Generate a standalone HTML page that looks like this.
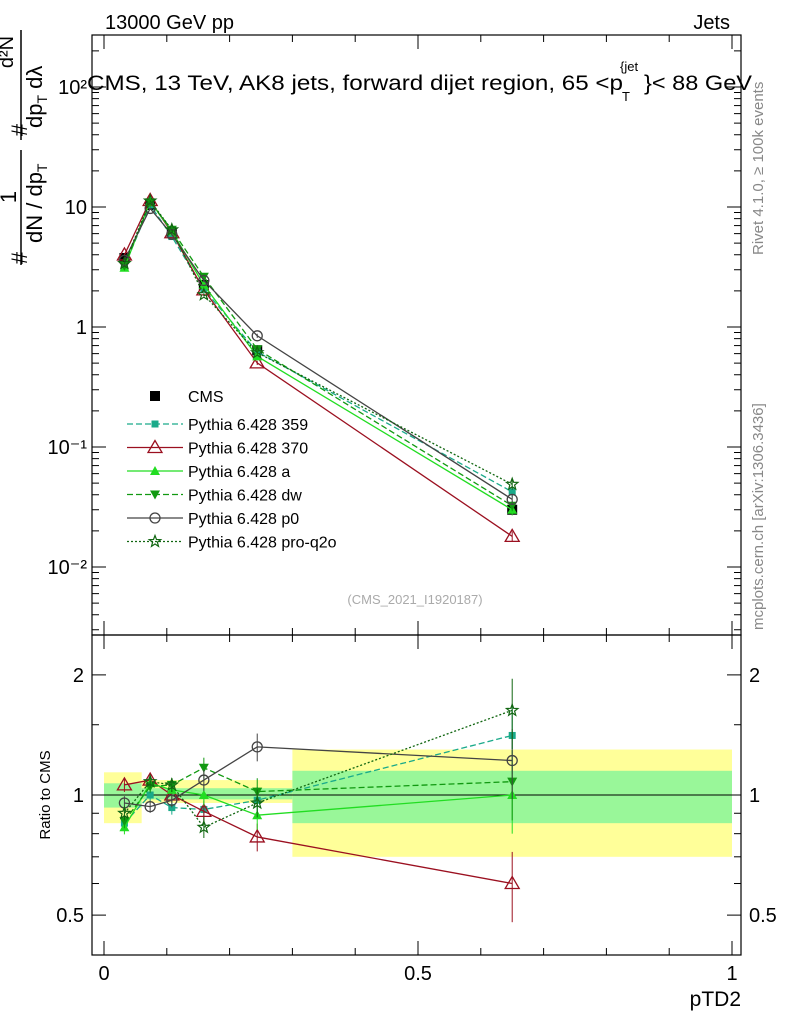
<!DOCTYPE html>
<html><head><meta charset="utf-8"><style>
body{margin:0;background:#fff;font-family:"Liberation Sans",sans-serif}
svg text{font-family:"Liberation Sans",sans-serif}
</style></head><body>
<svg id="c" width="786" height="1024" xmlns="http://www.w3.org/2000/svg">
<text x="105" y="29" font-size="20">13000 GeV pp</text>
<text x="730" y="29" font-size="20" text-anchor="end">Jets</text>
<g>
<text x="87" y="90" font-size="21" textLength="536" lengthAdjust="spacingAndGlyphs">CMS, 13 TeV, AK8 jets, forward dijet region, 65 &lt;p</text>
<text x="620" y="71" font-size="13">{jet</text>
<text x="622" y="101" font-size="13">T</text>
<text x="644" y="90" font-size="21" textLength="108" lengthAdjust="spacingAndGlyphs">}&lt; 88 GeV</text>
</g>
<text transform="translate(763,255) rotate(-90)" font-size="15" fill="#888">Rivet 4.1.0, ≥ 100k events</text>
<text transform="translate(763,630) rotate(-90)" font-size="15" fill="#888">mcplots.cern.ch [arXiv:1306.3436]</text>
<g>
<text transform="translate(27,258) rotate(-90)" font-size="22" text-anchor="middle">#</text>
<text transform="translate(16,197) rotate(-90)" font-size="22" text-anchor="middle">1</text>
<line x1="21" x2="21" y1="150" y2="265" stroke="#000" stroke-width="1.5"/>
<text transform="translate(42,243) rotate(-90)" font-size="22">dN / dp<tspan font-size="14" dy="5">T</tspan></text>
<text transform="translate(27,130) rotate(-90)" font-size="22" text-anchor="middle">#</text>
<text transform="translate(13,52) rotate(-90)" font-size="20" text-anchor="middle">d²N</text>
<line x1="21" x2="21" y1="30" y2="140" stroke="#000" stroke-width="1.5"/>
<text transform="translate(42,128) rotate(-90)" font-size="22">dp<tspan font-size="14" dy="5">T</tspan><tspan dy="-5"> dλ</tspan></text>
</g>
<text x="415" y="604" font-size="13" fill="#aaa" text-anchor="middle">(CMS_2021_I1920187)</text>
<text transform="translate(50,795) rotate(-90)" font-size="15" text-anchor="middle">Ratio to CMS</text>
<text x="741" y="1006" font-size="21" text-anchor="end">pTD2</text>
<g id="g"></g>
</svg>
<script>
const xVals=[0.0325,0.0735,0.108,0.159,0.244,0.65];
const binEdges=[0,0.06,0.3,1.0];
const bandYLo=[0.85,0.955,0.70];
const bandYHi=[1.14,1.09,1.30];
const bandGLo=[0.93,0.975,0.85];
const bandGHi=[1.07,1.04,1.15];
const cmsVals=[3.76,10.4,6.1,2.24,0.64,0.030];
const r359=[0.85,1.0,0.93,0.92,0.97,1.41];
const r370=[1.06,1.09,1.0,0.91,0.785,0.6];
const rA=[0.83,1.07,1.03,1.0,0.89,1.0];
const rDw=[0.86,1.05,1.06,1.17,1.02,1.08];
const rP0=[0.955,0.935,0.97,1.09,1.32,1.22];
const rQ2o=[0.9,1.08,1.06,0.83,0.955,1.63];
const relErr=[0.04,0.035,0.04,0.06,0.08,0.2];
const series=[
 {n:"Pythia 6.428 359",r:r359,c:"#1aaa8a",d:"6,3",m:"sq"},
 {n:"Pythia 6.428 370",r:r370,c:"#9b1020",d:"",m:"tri"},
 {n:"Pythia 6.428 a",r:rA,c:"#22dd22",d:"",m:"ftri"},
 {n:"Pythia 6.428 dw",r:rDw,c:"#119911",d:"6,3",m:"dtri"},
 {n:"Pythia 6.428 p0",r:rP0,c:"#444",d:"",m:"circ"},
 {n:"Pythia 6.428 pro-q2o",r:rQ2o,c:"#116611",d:"2,2",m:"star"}];
const L=92,R=741,T=35,M=635,B=955;
const X=v=>104+628*v;
const Y=v=>327-120*Math.log10(v);
const YR=v=>795-399*Math.log10(v);
const g=document.getElementById('g');
function el(t,a,p){const e=document.createElementNS('http://www.w3.org/2000/svg',t);for(const k in a)e.setAttribute(k,a[k]);(p||g).appendChild(e);return e;}
for(let i=0;i<binEdges.length-1;i++){
 const a=el('rect',{x:X(binEdges[i]),y:YR(bandYHi[i]),width:X(binEdges[i+1])-X(binEdges[i]),height:YR(bandYLo[i])-YR(bandYHi[i]),fill:'#ffff99'});
 
 
 const b=el('rect',{x:X(binEdges[i]),y:YR(bandGHi[i]),width:X(binEdges[i+1])-X(binEdges[i]),height:YR(bandGLo[i])-YR(bandGHi[i]),fill:'#99f799'});
 
 
}
el('line',{x1:L,x2:R,y1:YR(1),y2:YR(1),stroke:'#000'});
for(const [y1,y2] of [[T,M],[M,B]]){const f=el('rect',{x:L,y:y1,width:R-L,height:y2-y1,fill:'none',stroke:'#000','stroke-width':1.2});
 }
for(const v of [0,0.5,1]){for(const [y,s] of [[M,-1],[B,-1],[T,1],[M,1]]){el('line',{x1:X(v),x2:X(v),y1:y,y2:y+s*14,stroke:'#000'});}
 const t=el('text',{x:X(v),y:980,'font-size':20,'text-anchor':'middle'});t.textContent=v;
 }
for(let k=1;k<10;k++){const v=k/10;if(k==5)continue;for(const [y,s] of [[M,-1],[B,-1],[T,1],[M,1]])el('line',{x1:X(v),x2:X(v),y1:y,y2:y+s*7,stroke:'#000'});}
const mainTicks=[[100,"10²"],[10,"10"],[1,"1"],[0.1,"10⁻¹"],[0.01,"10⁻²"]];
for(let e=-3;e<3;e++)for(let k=1;k<10;k++){const v=k*Math.pow(10,e);const y=Y(v);if(y<T||y>M)continue;const len=k==1?14:7;
 el('line',{x1:L,x2:L+len,y1:y,y2:y,stroke:'#000'});el('line',{x1:R,x2:R-len,y1:y,y2:y,stroke:'#000'});}
for(const [v,s] of mainTicks){const t=el('text',{x:L-5,y:Y(v)+7,'font-size':20,'text-anchor':'end'});t.textContent=s;
 }
for(const v of [0.5,0.6,0.7,0.8,0.9,1,1.5,2]){const len=(v==0.5||v==1||v==2)?14:7;const y=YR(v);
 el('line',{x1:L,x2:L+len,y1:y,y2:y,stroke:'#000'});el('line',{x1:R,x2:R-len,y1:y,y2:y,stroke:'#000'});
 if(len==14){for(const [x,a] of [[L-8,'end'],[R+8,'start']]){const t=el('text',{x:x,y:y+7,'font-size':20,'text-anchor':a});t.textContent=v;
 }}}
function marker(m,x,y,c,p){
 if(m=="sq")el('rect',{x:x-3.5,y:y-3.5,width:7,height:7,fill:c},p);
 else if(m=="bsq")el('rect',{x:x-5,y:y-5,width:10,height:10,fill:'#000'},p);
 else if(m=="tri")el('polygon',{points:`${x},${y-7} ${x-7},${y+5} ${x+7},${y+5}`,fill:'none',stroke:c,'stroke-width':1.3},p);
 else if(m=="ftri")el('polygon',{points:`${x},${y-5} ${x-5},${y+4} ${x+5},${y+4}`,fill:c},p);
 else if(m=="dtri")el('polygon',{points:`${x},${y+5} ${x-5},${y-4} ${x+5},${y-4}`,fill:c},p);
 else if(m=="circ")el('circle',{cx:x,cy:y,r:5,fill:'none',stroke:c,'stroke-width':1.3},p);
 else {let pts=[];for(let i=0;i<10;i++){const rr=i%2?2.5:6;const a=-Math.PI/2+i*Math.PI/5;pts.push((x+rr*Math.cos(a))+','+(y+rr*Math.sin(a)));}
  el('polygon',{points:pts.join(' '),fill:'none',stroke:c,'stroke-width':1.2},p);}
}
for(let i=0;i<xVals.length;i++){const y=Y(cmsVals[i]);
 el('line',{x1:X(xVals[i]),x2:X(xVals[i]),y1:Y(cmsVals[i]*(1+relErr[i]*0.5)),y2:Y(cmsVals[i]*(1-relErr[i]*0.5)),stroke:'#000'});
 const p=el('g',{});marker("bsq",X(xVals[i]),y,'#000',p);}
series.forEach((s,si)=>{
 const gm=el('g',{});
 const pm=xVals.map((x,i)=>X(x)+','+Y(cmsVals[i]*s.r[i])).join(' ');
 el('polyline',{points:pm,fill:'none',stroke:s.c,'stroke-width':1.3,'stroke-dasharray':s.d},gm);
 const pr=xVals.map((x,i)=>X(x)+','+YR(s.r[i])).join(' ');
 el('polyline',{points:pr,fill:'none',stroke:s.c,'stroke-width':1.3,'stroke-dasharray':s.d},gm);
 xVals.forEach((x,i)=>{
  const e=relErr[i];
  el('line',{x1:X(x),x2:X(x),y1:Y(cmsVals[i]*s.r[i]*(1+e*0.5)),y2:Y(cmsVals[i]*s.r[i]*(1-e*0.5)),stroke:s.c},gm);
  el('line',{x1:X(x),x2:X(x),y1:YR(s.r[i]*(1+e)),y2:YR(s.r[i]*(1-e)),stroke:s.c},gm);
  marker(s.m,X(x),Y(cmsVals[i]*s.r[i]),s.c,gm);marker(s.m,X(x),YR(s.r[i]),s.c,gm);});
});
const lg=el('g',{});
marker("bsq",155,396,'#000',lg);
let t=el('text',{x:188,y:402,'font-size':16},lg);t.textContent="CMS";
series.forEach((s,i)=>{const y=424+i*23.5;
 el('line',{x1:127,x2:183,y1:y,y2:y,stroke:s.c,'stroke-width':1.3,'stroke-dasharray':s.d},lg);
 marker(s.m,155,y,s.c,lg);
 const tt=el('text',{x:188,y:y+6,'font-size':16},lg);tt.textContent=s.n;
 });
</script>
</body></html>
